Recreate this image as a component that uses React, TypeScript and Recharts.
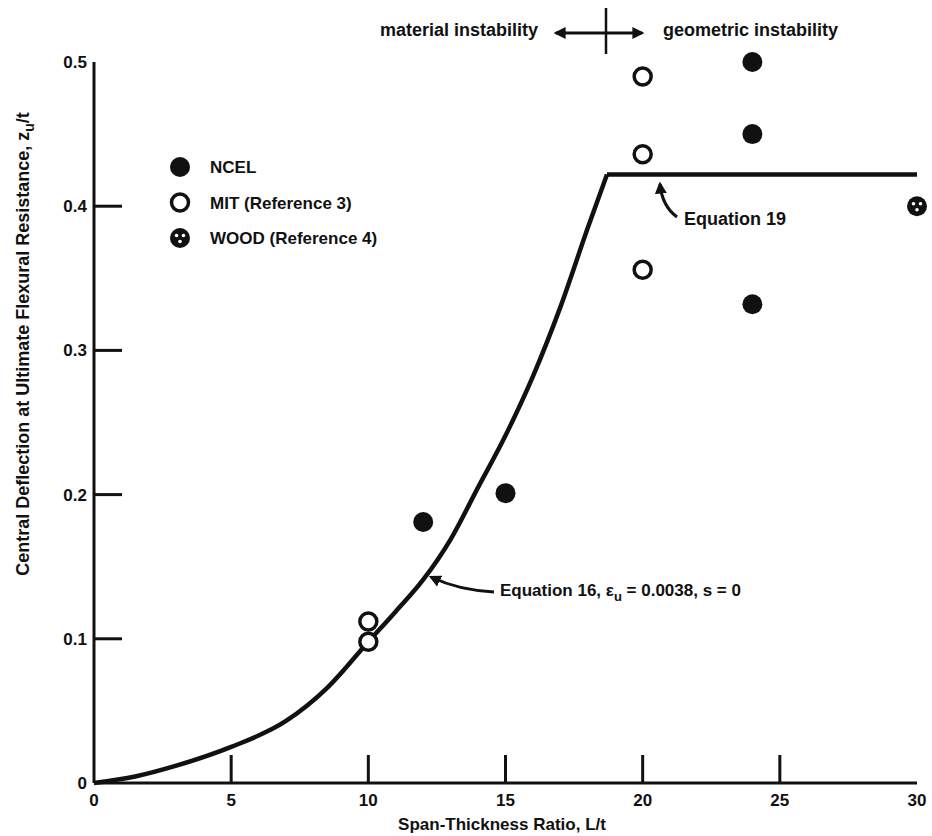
import React from 'react';
import {
	ComposedChart,
	Line,
	Scatter,
	XAxis,
	YAxis,
	Legend,
} from 'recharts';

// values
const xTicks = [0, 5, 10, 15, 20, 25, 30];
const yTicks = [0, 0.1, 0.2, 0.3, 0.4, 0.5];
const innerXTicks = [5, 10, 15, 20, 25];
const innerYTicks = [0.1, 0.2, 0.3, 0.4];

const eq16X = [0, 1.5, 3, 5, 7, 8.5, 10, 11, 12, 13, 14, 15, 16, 17, 18, 18.7];
const eq16Y = [0, 0.0045, 0.012, 0.025, 0.043, 0.066, 0.098, 0.119, 0.141, 0.169, 0.205, 0.241, 0.282, 0.33, 0.385, 0.422];

const eq19X = [18.7, 30];
const eq19Y = [0.422, 0.422];

const ncelX = [12, 15, 24, 24, 24];
const ncelY = [0.181, 0.201, 0.5, 0.45, 0.332];

const mitX = [10, 10, 20, 20, 20];
const mitY = [0.112, 0.098, 0.49, 0.436, 0.356];

const woodX = [30];
const woodY = [0.4];

const zip = (xs: number[], ys: number[]) => xs.map((x, i) => ({ x, y: ys[i] }));

const eq16Data = zip(eq16X, eq16Y);
const eq19Data = zip(eq19X, eq19Y);
const ncelData = zip(ncelX, ncelY);
const mitData = zip(mitX, mitY);
const woodData = zip(woodX, woodY);

const FONT = '"Liberation Sans", Arial, sans-serif';
const INK = '#111';
const TICK_LEN = 28;

const BottomTick = (props: any) => {
	const { x, y, payload } = props;
	const v = payload.value;
	return (
		<g>
			{v !== 0 && v !== 30 && <line x1={x} y1={y} x2={x} y2={y - TICK_LEN} stroke={INK} strokeWidth={3} />}
			<text x={x} y={y + 23} textAnchor="middle" fontFamily={FONT} fontWeight="bold" fontSize={17} fill={INK}>{v}</text>
		</g>
	);
};

const TopTick = (props: any) => {
	const { x, y } = props;
	return <line x1={x} y1={y} x2={x} y2={y + TICK_LEN} stroke={INK} strokeWidth={3} />;
};

const LeftTick = (props: any) => {
	const { x, y, payload } = props;
	const v = payload.value;
	return (
		<g>
			{v !== 0 && v !== 0.5 && <line x1={x} y1={y} x2={x + TICK_LEN} y2={y} stroke={INK} strokeWidth={3} />}
			<text x={x - 7} y={y + 6} textAnchor="end" fontFamily={FONT} fontWeight="bold" fontSize={17} fill={INK}>{v === 0 ? '0' : v.toFixed(1)}</text>
		</g>
	);
};

const RightTick = (props: any) => {
	const { x, y } = props;
	return <line x1={x} y1={y} x2={x - TICK_LEN} y2={y} stroke={INK} strokeWidth={3} />;
};

const FilledDot = (props: any) => <circle cx={props.cx} cy={props.cy} r={10} fill={INK} />;
const OpenDot = (props: any) => <circle cx={props.cx} cy={props.cy} r={8.5} fill="#fff" stroke={INK} strokeWidth={3.5} />;
const WoodDot = (props: any) => {
	const { cx, cy } = props;
	return (
		<g>
			<circle cx={cx} cy={cy} r={10} fill={INK} />
			<circle cx={cx - 3.5} cy={cy - 2.5} r={1.8} fill="#fff" />
			<circle cx={cx + 3.5} cy={cy - 2.5} r={1.8} fill="#fff" />
			<circle cx={cx} cy={cy + 3.5} r={1.8} fill="#fff" />
		</g>
	);
};

const legendItems = [
	{ label: 'NCEL', Marker: FilledDot },
	{ label: 'MIT (Reference 3)', Marker: OpenDot },
	{ label: 'WOOD (Reference 4)', Marker: WoodDot },
];

const LegendBox = () => (
	<svg width={260} height={110}>
		{legendItems.map((item, i) => (
			<g key={item.label}>
				<item.Marker cx={12} cy={12 + i * 35.5} />
				<text x={42} y={18 + i * 35.5} fontFamily={FONT} fontWeight="bold" fontSize={17} fill={INK}>{item.label}</text>
			</g>
		))}
	</svg>
);

const App: React.FC = () => {
	return (
		<div style={{ position: 'absolute', left: 0, top: 0, width: 932, height: 836, background: '#fff' }}>
			<ComposedChart width={932} height={836} margin={{ top: 62, right: 15, left: 0, bottom: 0 }}>
				<XAxis
					dataKey="x"
					type="number"
					domain={[0, 30]}
					ticks={xTicks}
					tickSize={0}
					tickMargin={0}
					height={53}
					tick={<BottomTick />}
					tickLine={false}
					axisLine={{ stroke: INK, strokeWidth: 3 }}
				/>
				<XAxis
					xAxisId="t"
					orientation="top"
					dataKey="x"
					type="number"
					domain={[0, 30]}
					ticks={innerXTicks}
					tickSize={0}
					tickMargin={0}
					height={0}
					tick={<TopTick />}
					tickLine={false}
					axisLine={{ stroke: INK, strokeWidth: 3 }}
				/>
				<YAxis
					dataKey="y"
					type="number"
					domain={[0, 0.5]}
					ticks={yTicks}
					tickSize={0}
					tickMargin={0}
					width={94}
					tick={<LeftTick />}
					tickLine={false}
					axisLine={{ stroke: INK, strokeWidth: 3 }}
				/>
				<YAxis
					yAxisId="r"
					orientation="right"
					dataKey="y"
					type="number"
					domain={[0, 0.5]}
					ticks={innerYTicks}
					tickSize={0}
					tickMargin={0}
					width={0}
					tick={<RightTick />}
					tickLine={false}
					axisLine={{ stroke: INK, strokeWidth: 3 }}
				/>
				<Line data={eq16Data} dataKey="y" type="monotone" stroke={INK} strokeWidth={4.5} dot={false} activeDot={false} isAnimationActive={false} />
				<Line data={eq19Data} dataKey="y" type="linear" stroke={INK} strokeWidth={4.5} dot={false} activeDot={false} isAnimationActive={false} />
				<Scatter data={ncelData} dataKey="y" shape={<FilledDot />} isAnimationActive={false} />
				<Scatter data={mitData} dataKey="y" shape={<OpenDot />} isAnimationActive={false} />
				<Scatter data={woodData} dataKey="y" shape={<WoodDot />} isAnimationActive={false} />
				<Legend
					layout="vertical"
					align="center"
					verticalAlign="middle"
					content={<LegendBox />}
					wrapperStyle={{ position: 'absolute', left: 168, top: 155, width: 260, height: 110 }}
				/>
			</ComposedChart>
			<svg width={932} height={836} style={{ position: 'absolute', left: 0, top: 0, pointerEvents: 'none' }}>
				<defs>
					<marker id="ah" viewBox="0 0 10 10" refX="8" refY="5" markerWidth="4" markerHeight="4" orient="auto-start-reverse">
						<path d="M0,0 L10,5 L0,10 z" fill={INK} />
					</marker>
				</defs>
				<text
					transform="translate(29,344) rotate(-90)"
					textAnchor="middle"
					fontFamily={FONT}
					fontWeight="bold"
					fontSize={18}
					fill={INK}
				>
					Central Deflection at Ultimate Flexural Resistance, z<tspan dy={5} fontSize={14}>u</tspan><tspan dy={-5}>/t</tspan>
				</text>
				<text x={502} y={830} textAnchor="middle" fontFamily={FONT} fontWeight="bold" fontSize={17} fill={INK}>Span-Thickness Ratio, L/t</text>
				<text x={538} y={36} textAnchor="end" fontFamily={FONT} fontWeight="bold" fontSize={18} fill={INK}>material instability</text>
				<text x={663} y={36} fontFamily={FONT} fontWeight="bold" fontSize={18} fill={INK}>geometric instability</text>
				<line x1={556} y1={33} x2={642} y2={33} stroke={INK} strokeWidth={3} markerStart="url(#ah)" markerEnd="url(#ah)" />
				<line x1={606} y1={8} x2={606} y2={54} stroke={INK} strokeWidth={2.5} />
				<text x={684} y={225} fontFamily={FONT} fontWeight="bold" fontSize={18} fill={INK}>Equation 19</text>
				<path d="M677,217 Q662,206 660,184" fill="none" stroke={INK} strokeWidth={3} markerEnd="url(#ah)" />
				<text x={500} y={596} fontFamily={FONT} fontWeight="bold" fontSize={17} fill={INK}>
					Equation 16, ε<tspan dy={5} fontSize={13}>u</tspan><tspan dy={-5}>  =  0.0038, s  =  0</tspan>
				</text>
				<path d="M494,592 Q458,590 431,577" fill="none" stroke={INK} strokeWidth={3} markerEnd="url(#ah)" />
			</svg>
		</div>
	);
};

export default App;
